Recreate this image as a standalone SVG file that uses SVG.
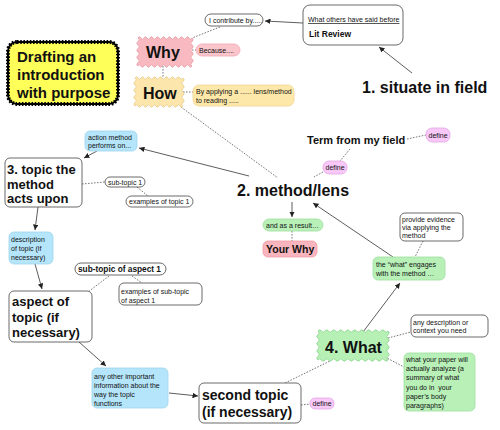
<svg xmlns="http://www.w3.org/2000/svg" width="500" height="430" viewBox="0 0 500 430">
<defs>
<marker id="ah" viewBox="0 0 10 10" refX="10" refY="5" markerWidth="5.5" markerHeight="5.5" markerUnits="userSpaceOnUse" orient="auto"><path d="M0,0 L10,5 L0,10 z" fill="#222"/></marker>
</defs>
<style>
text{font-family:"Liberation Sans",Arial,Helvetica,sans-serif;fill:#111}
.s{font-size:7px}
.b{font-weight:bold}
.big{font-size:16px;font-weight:bold}
.mid{font-size:13px;font-weight:bold}
.wbox{fill:#fff;stroke:#444;stroke-width:0.8}
.blue{fill:#b5e5fa;stroke:#9fd6ee;stroke-width:0.8}
.green{fill:#b8f0b8;stroke:#9fdf9f;stroke-width:0.8}
.pink{fill:#f8c9f8;stroke:#e3a6e3;stroke-width:0.8}
.sol{stroke:#333;stroke-width:0.8;fill:none;marker-end:url(#ah)}
.dot{stroke:#555;stroke-width:0.8;fill:none;stroke-dasharray:1.6 1.4}
</style>
<g id="connectors">
<line class="sol" x1="412" y1="73" x2="379" y2="47"/>
<line class="sol" x1="303" y1="23" x2="265" y2="21"/>
<line class="sol" x1="249" y1="176" x2="139" y2="148"/>
<line class="sol" x1="97" y1="151" x2="84" y2="158"/>
<line class="sol" x1="38" y1="207" x2="35" y2="230"/>
<line class="sol" x1="35" y1="264" x2="42" y2="289"/>
<line class="sol" x1="79" y1="342" x2="106" y2="366"/>
<line class="sol" x1="169" y1="393" x2="198" y2="396"/>
<line class="sol" x1="292" y1="202" x2="292" y2="217"/>
<line class="sol" x1="393" y1="257" x2="313" y2="203"/>
<line class="sol" x1="363" y1="332" x2="400" y2="283"/>
<line class="dot" x1="220" y1="27" x2="192" y2="38"/>
<line class="dot" x1="192" y1="50" x2="196" y2="50"/>
<line class="dot" x1="163" y1="66" x2="163" y2="78"/>
<line class="dot" x1="183" y1="92" x2="193" y2="92"/>
<line class="dot" x1="181" y1="107" x2="278" y2="178"/>
<line class="dot" x1="407" y1="139" x2="426" y2="135"/>
<line class="dot" x1="350" y1="149" x2="340" y2="161"/>
<line class="dot" x1="323" y1="172" x2="314" y2="177"/>
<line class="dot" x1="292" y1="231" x2="292" y2="241"/>
<line class="dot" x1="82" y1="184" x2="105" y2="182"/>
<line class="dot" x1="137" y1="187" x2="148" y2="196"/>
<line class="dot" x1="109" y1="276" x2="88" y2="292"/>
<line class="dot" x1="132" y1="276" x2="142" y2="283"/>
<line class="dot" x1="285" y1="383" x2="330" y2="361"/>
<line class="dot" x1="301" y1="405" x2="310" y2="404"/>
<line class="dot" x1="423" y1="241" x2="415" y2="257"/>
<line class="dot" x1="388" y1="338" x2="411" y2="332"/>
<line class="dot" x1="385" y1="357" x2="404" y2="367"/>
</g>
<g id="title">
<rect x="8" y="42" width="110" height="62" rx="9" fill="#ffff5a" stroke="#000" stroke-width="2"/>
<rect x="8" y="42" width="110" height="62" rx="9" fill="none" stroke="#000" stroke-width="4" stroke-dasharray="1.6 1.6"/>
<text class="b" font-size="15" x="17" y="62">Drafting an</text>
<text class="b" font-size="15" x="17" y="80">introduction</text>
<text class="b" font-size="15" x="17" y="98">with purpose</text>
</g>
<g id="why">
<path d="M138,38 q1.5,-2.5 3,0 t3,0 t3,0 t3,0 t3,0 t3,0 t3,0 t3,0 t3,0 t3,0 t3,0 t3,0 t3,0 t3,0 t3,0 t3,0 t3,0 t3,0 q2.5,1.75 0,3.5 t0,3.5 t0,3.5 t0,3.5 t0,3.5 t0,3.5 t0,3.5 t0,3.5 q-1.5,2.5 -3,0 t-3,0 t-3,0 t-3,0 t-3,0 t-3,0 t-3,0 t-3,0 t-3,0 t-3,0 t-3,0 t-3,0 t-3,0 t-3,0 t-3,0 t-3,0 t-3,0 t-3,0 q-2.5,-1.75 0,-3.5 t0,-3.5 t0,-3.5 t0,-3.5 t0,-3.5 t0,-3.5 t0,-3.5 t0,-3.5 z" fill="#f8b9c0" stroke="#e99aa6" stroke-width="0.8"/>
<text class="big" x="146" y="58">Why</text>
</g>
<g id="because">
<rect x="196" y="44" width="44" height="12" rx="6" fill="#fbc5cc" stroke="#f2a8b2" stroke-width="0.8"/>
<text class="s" x="199" y="52.5">Because....</text>
</g>
<g id="how">
<path d="M135,78 q1.5,-2.5 3,0 t3,0 t3,0 t3,0 t3,0 t3,0 t3,0 t3,0 t3,0 t3,0 t3,0 t3,0 t3,0 t3,0 t3,0 t3,0 q2.5,1.75 0,3.5 t0,3.5 t0,3.5 t0,3.5 t0,3.5 t0,3.5 t0,3.5 t0,3.5 q-1.5,2.5 -3,0 t-3,0 t-3,0 t-3,0 t-3,0 t-3,0 t-3,0 t-3,0 t-3,0 t-3,0 t-3,0 t-3,0 t-3,0 t-3,0 t-3,0 t-3,0 q-2.5,-1.75 0,-3.5 t0,-3.5 t0,-3.5 t0,-3.5 t0,-3.5 t0,-3.5 t0,-3.5 t0,-3.5 z" fill="#fde6ab" stroke="#e6c98a" stroke-width="0.8"/>
<text class="big" x="143" y="99">How</text>
</g>
<g id="byapplying">
<rect x="193" y="85" width="101" height="21" rx="6" fill="#fde8a9" stroke="#efd592" stroke-width="0.8"/>
<text class="s" x="196" y="93.5">By applying a ...... lens/method</text>
<text class="s" x="196" y="102.5">to reading .....</text>
</g>
<g id="contribute">
<rect class="wbox" x="205" y="14" width="58" height="12" rx="6"/>
<text class="s" x="209" y="22.5">I contribute by.....</text>
</g>
<g id="litreview">
<rect class="wbox" x="303" y="5" width="100" height="40" rx="7"/>
<text class="s" x="308" y="22" text-decoration="underline">What others have said before</text>
<text class="b" font-size="8.5" x="309" y="37">Lit Review</text>
</g>
<g id="situate">
<text class="big" x="362" y="93">1. situate in field</text>
</g>
<g id="method">
<text class="big" x="237" y="196">2. method/lens</text>
</g>
<g id="term">
<text class="b" font-size="11" x="307" y="144">Term from my field</text>
</g>
<g id="define1">
<rect class="pink" x="426" y="128" width="24" height="14" rx="6"/>
<text class="s" x="428.5" y="137.5">define</text>
</g>
<g id="define2">
<rect class="pink" x="323" y="161" width="24" height="13" rx="6"/>
<text class="s" x="325.5" y="170">define</text>
</g>
<g id="result">
<rect class="green" x="263" y="219" width="60" height="12" rx="6"/>
<text class="s" x="266" y="227.5">and as a result…</text>
</g>
<g id="yourwhy">
<rect x="263" y="241" width="54" height="16" rx="5" fill="#f9b5bd" stroke="#f09aa4" stroke-width="0.8"/>
<text class="b" font-size="10.5" x="266" y="253">Your Why</text>
</g>
<g id="action">
<rect class="blue" x="85" y="131" width="52" height="20" rx="5"/>
<text class="s" x="88" y="139.5">action method</text>
<text class="s" x="88" y="148">performs on...</text>
</g>
<g id="topic">
<rect class="wbox" x="5" y="158" width="77" height="49" rx="5"/>
<text class="mid" x="7" y="174">3. topic the</text>
<text class="mid" x="7" y="188.5">method</text>
<text class="mid" x="7" y="203">acts upon</text>
</g>
<g id="subtopic1">
<rect class="wbox" x="105" y="177" width="40" height="10" rx="5"/>
<text class="s" x="108" y="184.5">sub-topic 1</text>
</g>
<g id="examples1">
<rect class="wbox" x="126" y="196" width="67" height="11" rx="5.5"/>
<text class="s" x="129" y="204">examples of topic 1</text>
</g>
<g id="description">
<rect class="blue" x="9" y="232" width="44" height="32" rx="5"/>
<text class="s" x="11" y="241.5">description</text>
<text class="s" x="11" y="250.5">of topic (if</text>
<text class="s" x="11" y="259.5">necessary)</text>
</g>
<g id="subaspect">
<rect class="wbox" x="75" y="263" width="91" height="12" rx="6"/>
<text class="b" font-size="8.3" x="78" y="272">sub-topic of aspect 1</text>
</g>
<g id="examplesaspect">
<rect class="wbox" x="119" y="283" width="83" height="22" rx="5"/>
<text class="s" x="121" y="294">examples of sub-topic</text>
<text class="s" x="121" y="303">of aspect 1</text>
</g>
<g id="aspect">
<rect class="wbox" x="9" y="291" width="83" height="51" rx="5"/>
<text class="mid" x="12" y="306">aspect of</text>
<text class="mid" x="12" y="322">topic (if</text>
<text class="mid" x="12" y="337">necessary)</text>
</g>
<g id="anyother">
<rect class="blue" x="92" y="368" width="76" height="40" rx="5"/>
<text class="s" x="94" y="379">any other important</text>
<text class="s" x="94" y="388">information about the</text>
<text class="s" x="94" y="397">way the topic</text>
<text class="s" x="94" y="406">functions</text>
</g>
<g id="second">
<rect class="wbox" x="199" y="383" width="102" height="40" rx="5"/>
<text class="b" font-size="14" x="202" y="400">second topic</text>
<text class="b" font-size="14" x="202" y="417">(if necessary)</text>
</g>
<g id="define3">
<rect class="pink" x="310" y="398" width="24" height="11" rx="5"/>
<text class="s" x="312.5" y="406">define</text>
</g>
<g id="what">
<path d="M318,331 q1.75,-2.5 3.5,0 t3.5,0 t3.5,0 t3.5,0 t3.5,0 t3.5,0 t3.5,0 t3.5,0 t3.5,0 t3.5,0 t3.5,0 t3.5,0 t3.5,0 t3.5,0 t3.5,0 t3.5,0 t3.5,0 t3.5,0 t3.5,0 t3.5,0 q2.5,1.8125 0,3.625 t0,3.625 t0,3.625 t0,3.625 t0,3.625 t0,3.625 t0,3.625 t0,3.625 q-1.75,2.5 -3.5,0 t-3.5,0 t-3.5,0 t-3.5,0 t-3.5,0 t-3.5,0 t-3.5,0 t-3.5,0 t-3.5,0 t-3.5,0 t-3.5,0 t-3.5,0 t-3.5,0 t-3.5,0 t-3.5,0 t-3.5,0 t-3.5,0 t-3.5,0 t-3.5,0 t-3.5,0 q-2.5,-1.8125 0,-3.625 t0,-3.625 t0,-3.625 t0,-3.625 t0,-3.625 t0,-3.625 t0,-3.625 t0,-3.625 z" fill="#b7f0b5" stroke="#86d089" stroke-width="0.8"/>
<text class="big" x="325" y="353">4. What</text>
</g>
<g id="engages">
<rect class="green" x="373" y="257" width="72" height="23" rx="5"/>
<text class="s" x="376" y="266.5">the “what” engages</text>
<text class="s" x="376" y="276">with the method …</text>
</g>
<g id="evidence">
<rect class="wbox" x="400" y="213" width="63" height="28" rx="5"/>
<text class="s" x="402" y="221.5">provide evidence</text>
<text class="s" x="402" y="230">via applying the</text>
<text class="s" x="402" y="238">method</text>
</g>
<g id="anydesc">
<rect class="wbox" x="411" y="315" width="77" height="22" rx="5"/>
<text class="s" x="413" y="325">any description or</text>
<text class="s" x="413" y="333">context you need</text>
</g>
<g id="paper">
<rect class="green" x="404" y="353" width="71" height="58" rx="5"/>
<text class="s" x="406" y="362">what your paper will</text>
<text class="s" x="406" y="371.2">actually analyze (a</text>
<text class="s" x="406" y="380.4">summary of what</text>
<text class="s" x="406" y="389.6" xml:space="preserve">you do in  your</text>
<text class="s" x="406" y="398.8">paper’s body</text>
<text class="s" x="406" y="408">paragraphs)</text>
</g>
</svg>
